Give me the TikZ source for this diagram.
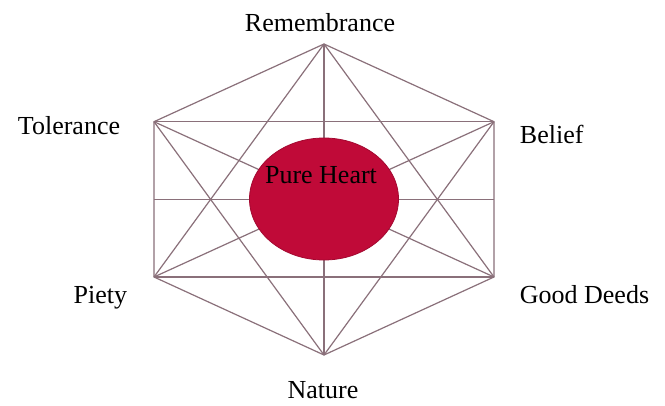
\documentclass[tikz,border=0pt]{standalone}
\usepackage{fontspec}
\setmainfont{Liberation Serif}
\usetikzlibrary{shapes.geometric}
\definecolor{linec}{RGB}{138,112,122}
\definecolor{heartc}{RGB}{192,10,56}
\tikzset{
  edge/.style={draw=linec, line width=1.2pt},
  lbl/.style={anchor=base, inner sep=0pt, font=\fontsize{26}{30}\selectfont},
  heartshape/.style={ellipse, fill=heartc, draw=heartc!85!black, line width=0.8pt, minimum width=149pt, minimum height=122pt, inner sep=0pt}
}
\begin{document}
\begin{tikzpicture}[x=1pt,y=1pt]
\useasboundingbox (0,0) rectangle (665,405);
\fill[white] (0,0) rectangle (665,405);
\coordinate (T) at (324,361);
\coordinate (UL) at (154,283.3);
\coordinate (UR) at (494,283.3);
\coordinate (LL) at (154,128);
\coordinate (LR) at (494,128);
\coordinate (B) at (324,50);
\coordinate (ML) at (154,205.65);
\coordinate (MR) at (494,205.65);
% hexagon
\draw[edge] (T) -- (UR) -- (LR) -- (B) -- (LL) -- (UL) -- cycle;
% short diagonals
\draw[edge] (T) -- (LL);
\draw[edge] (T) -- (LR);
\draw[edge] (B) -- (UL);
\draw[edge] (B) -- (UR);
\draw[edge] (UL) -- (UR);
\draw[edge] (LL) -- (LR);
% long diagonals
\draw[edge] (T) -- (B);
\draw[edge] (UL) -- (LR);
\draw[edge] (UR) -- (LL);
% middle line
\draw[edge] (ML) -- (MR);
% heart
\node[heartshape] (heart) at (324,206) {};
\node[lbl] (ph) at (321,221) {Pure Heart};
% labels
\node[lbl] (rem) at (320,373.3) {Remembrance};
\node[lbl] (tol) at (69,270) {Tolerance};
\node[lbl] (bel) at (551.7,261.7) {Belief};
\node[lbl] (pie) at (100.3,101.7) {Piety};
\node[lbl] (gd) at (584.5,101.7) {Good Deeds};
\node[lbl] (nat) at (323,6.7) {Nature};
\end{tikzpicture}
\end{document}
